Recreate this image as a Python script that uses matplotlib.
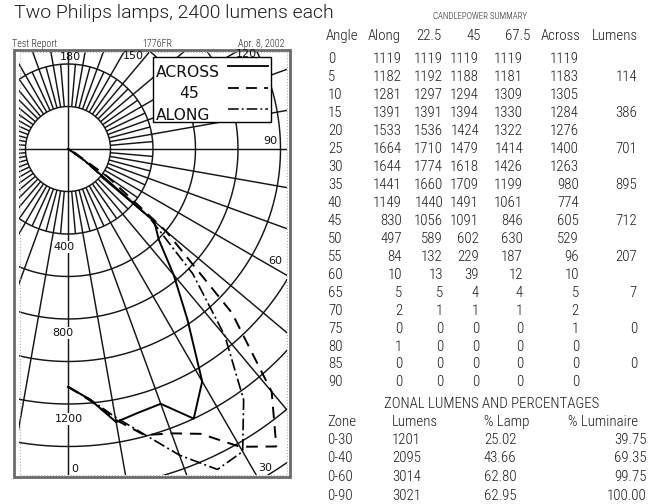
import numpy as np
import matplotlib
matplotlib.use("Agg")
import matplotlib.pyplot as plt
from matplotlib.patches import Rectangle
from matplotlib.lines import Line2D
from matplotlib import font_manager

# ---------------- data ----------------
angles = [0, 5, 10, 15, 20, 25, 30, 35, 40, 45, 50, 55, 60, 65, 70, 75, 80, 85, 90]
along = [1119, 1182, 1281, 1391, 1533, 1664, 1644, 1441, 1149, 830, 497, 84, 10, 5, 2, 0, 1, 0, 0]
plane_225 = [1119, 1192, 1297, 1391, 1536, 1710, 1774, 1660, 1440, 1056, 589, 132, 13, 5, 1, 0, 0, 0, 0]
plane_45 = [1119, 1188, 1294, 1394, 1424, 1479, 1618, 1709, 1491, 1091, 602, 229, 39, 4, 1, 0, 0, 0, 0]
plane_675 = [1119, 1181, 1309, 1330, 1322, 1414, 1426, 1199, 1061, 846, 630, 187, 12, 4, 1, 0, 0, 0, 0]
across = [1119, 1183, 1305, 1284, 1276, 1400, 1263, 980, 774, 605, 529, 96, 10, 5, 2, 1, 0, 0, 0]
zone_lumens_col = ["", "114", "", "386", "", "701", "", "895", "", "712", "", "207", "", "7", "", "0", "", "0", ""]

table_headers = ["Angle", "Along", "22.5", "45", "67.5", "Across", "Lumens"]

zones = ["0-30", "0-40", "0-60", "0-90"]
zone_lumens = [1201, 2095, 3014, 3021]
pct_lamp = ["25.02", "43.66", "62.80", "62.95"]
pct_luminaire = ["39.75", "69.35", "99.75", "100.00"]
zonal_headers = ["Zone", "Lumens", "% Lamp", "% Luminaire"]

grid_radii = [200, 400, 600, 800, 1000, 1200, 1400, 1600, 1800, 2000]
radial_labels = ["400", "800", "1200"]
angle_labels = ["180", "150", "120", "90", "60", "30", "0"]

title = "Two Philips lamps, 2400 lumens each"

# ---------------- fonts ----------------
def has_font(name):
    try:
        font_manager.findfont(name, fallback_to_default=False)
        return True
    except Exception:
        return False

COND = "Roboto Condensed" if has_font("Roboto Condensed") else "DejaVu Sans"
TITLEF = "Roboto" if has_font("Roboto") else "DejaVu Sans"
LIGHT = 300

W, H = 664, 504
fig = plt.figure(figsize=(W / 100, H / 100), dpi=100)
renderer = fig.canvas.get_renderer()


def fit_size(text, family, weight, target_px, base=10.0):
    t = fig.text(0, 0, text, family=family, weight=weight, fontsize=base)
    w = t.get_window_extent(renderer).width
    t.remove()
    return base * target_px / w


def fx(px):
    return px / W


def fy(py):
    return 1 - py / H


TABLE_SIZE = fit_size("ZONAL LUMENS AND PERCENTAGES", COND, LIGHT, 215)
TITLE_SIZE = fit_size(title, TITLEF, LIGHT, 319)
SMALL_SIZE = fit_size("CANDLEPOWER SUMMARY", COND, LIGHT, 94)
HDR_SIZE = fit_size("Test Report", COND, LIGHT, 45)

# ---------------- polar chart ----------------
CX, CY = 68, 149          # centre in image pixels
S = 0.2125                # pixels per candela
RMAX = 2000
R = RMAX * S
ax = fig.add_axes([(CX - R) / W, (H - CY - R) / H, 2 * R / W, 2 * R / H], projection="polar")
ax.set_theta_zero_location("S")
ax.set_theta_direction(1)
ax.set_ylim(0, RMAX)
ax.set_axis_off()

clip = Rectangle((fx(19), fy(475)), (287 - 19) / W, (475 - 52) / H, transform=fig.transFigure)

arts = []
gk = dict(color="#151515", lw=1.05, solid_capstyle="butt")
th = np.linspace(0, 2 * np.pi, 1441)
for r in grid_radii:
    arts += ax.plot(th, np.full_like(th, r), **gk)
for a in range(0, 360, 10):
    r0 = 0 if a % 90 == 0 else grid_radii[0]
    arts += ax.plot([np.radians(a)] * 2, [r0, RMAX], **gk)
for a in range(5, 360, 10):
    arts += ax.plot([np.radians(a)] * 2, [grid_radii[0], grid_radii[1]], **gk)

th_data = np.radians(angles)
arts += ax.plot(th_data, across, color="k", lw=1.4, ls="-")
arts += ax.plot(th_data, plane_45, color="k", lw=1.4, ls=(0, (6, 4)))
arts += ax.plot(th_data, along, color="k", lw=1.2, ls=(0, (7, 2, 1.2, 2)))
for a in arts:
    a.set_clip_path(clip)

# frame
fig.add_artist(Rectangle((fx(14), fy(477)), (290 - 14) / W, (477 - 50) / H, transform=fig.transFigure,
                         fill=False, ec="#6a6a6a", lw=2.0, zorder=2))
fig.add_artist(Rectangle((fx(19.5), fy(474.5)), (286.5 - 19.5) / W, (474.5 - 52) / H, transform=fig.transFigure,
                         fill=False, ec="#b0b0b0", lw=0.8, ls=":", zorder=2))

# angle labels
lab_font = dict(family="DejaVu Sans", fontsize=8, color="#111")
angle_pos = [(70, 57), (133, 56), (246, 54), (270, 141), (275, 261), (265, 468), (75, 469)]
for t, (x, y) in zip(angle_labels, angle_pos):
    fig.text(fx(x), fy(y), t, ha="center", va="center", zorder=4, **lab_font)
radial_pos = [(63.5, 247), (63, 333), (69, 419)]
for t, (x, y) in zip(radial_labels, radial_pos):
    fig.text(fx(x), fy(y), t, ha="center", va="center", zorder=4,
             bbox=dict(fc="white", ec="none", pad=0.5), **lab_font)

# legend
fig.add_artist(Rectangle((fx(153), fy(122)), (271 - 153) / W, (122 - 57) / H, transform=fig.transFigure,
                         fc="white", ec="k", lw=1.0, zorder=3))
leg_font = dict(family="DejaVu Sans", fontsize=11.2, color="#111")
fig.text(fx(156), fy(77), "ACROSS", ha="left", va="baseline", zorder=5, **leg_font)
fig.text(fx(189), fy(98), "45", ha="center", va="baseline", zorder=5, **leg_font)
fig.text(fx(156), fy(120), "ALONG", ha="left", va="baseline", zorder=5, **leg_font)
fig.add_artist(Line2D([fx(228), fx(268)], [fy(66)] * 2, color="k", lw=1.3, ls="-", zorder=5))
fig.add_artist(Line2D([fx(228), fx(268)], [fy(88)] * 2, color="k", lw=1.3, ls=(0, (6, 4)), zorder=5))
fig.add_artist(Line2D([fx(228), fx(268)], [fy(109)] * 2, color="k", lw=1.1, ls=(0, (7, 2, 1.2, 2)), zorder=5))

# header above chart
hdr = dict(family=COND, weight=LIGHT, fontsize=HDR_SIZE, color="#222")
fig.text(fx(12), fy(47), "Test Report", ha="left", va="baseline", **hdr)
fig.text(fx(157), fy(47), "1776FR", ha="center", va="baseline", **hdr)
fig.text(fx(284), fy(47), "Apr. 8, 2002", ha="right", va="baseline", **hdr)

# title
fig.text(fx(14), fy(17.5), title, ha="left", va="baseline", family=TITLEF, weight=LIGHT,
         fontsize=TITLE_SIZE, color="#1a1a1a")

# ---------------- table ----------------
tf = dict(family=COND, weight=LIGHT, fontsize=TABLE_SIZE, color="#1a1a1a")
fig.text(fx(480), fy(18.5), "CANDLEPOWER SUMMARY", ha="center", va="baseline",
         family=COND, weight=LIGHT, fontsize=SMALL_SIZE, color="#222")

head_cx = [342, 384, 429, 473.5, 517.5, 561, 614.5]
for t, x in zip(table_headers, head_cx):
    fig.text(fx(x), fy(40), t, ha="center", va="baseline", **tf)

col_right = [402, 443, 479, 523, 579, 637]
series = [along, plane_225, plane_45, plane_675, across]
row0, dy = 63, 17.97
for i, ang in enumerate(angles):
    yb = fy(row0 + dy * i)
    fig.text(fx(328), yb, str(ang), ha="left", va="baseline", **tf)
    for s, x in zip(series, col_right[:5]):
        fig.text(fx(x), yb, str(s[i]), ha="right", va="baseline", **tf)
    if zone_lumens_col[i]:
        fig.text(fx(col_right[5]), yb, zone_lumens_col[i], ha="right", va="baseline", **tf)

fig.text(fx(492), fy(408), "ZONAL LUMENS AND PERCENTAGES", ha="center", va="baseline", **tf)
zh_x = [327, 392, 484, 568]
for t, x in zip(zonal_headers, zh_x):
    fig.text(fx(x), fy(426), t, ha="left", va="baseline", **tf)
zrow0, zdy = 443.5, 18.8
for i in range(len(zones)):
    yb = fy(zrow0 + zdy * i)
    fig.text(fx(327), yb, zones[i], ha="left", va="baseline", **tf)
    fig.text(fx(392), yb, str(zone_lumens[i]), ha="left", va="baseline", **tf)
    fig.text(fx(484), yb, pct_lamp[i], ha="left", va="baseline", **tf)
    fig.text(fx(647), yb, pct_luminaire[i], ha="right", va="baseline", **tf)

fig.savefig("out.png", dpi=100)
